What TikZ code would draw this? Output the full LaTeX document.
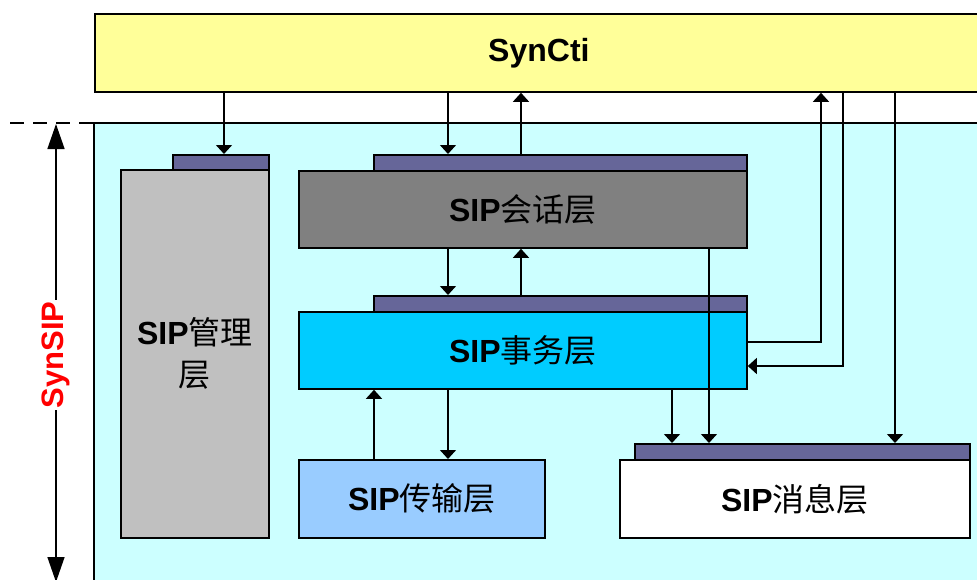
\documentclass[tikz,border=0pt]{standalone}
\usepackage{fontspec}
\setmainfont{Liberation Sans}
\newfontfamily\cjk{Noto Sans CJK SC}
\usetikzlibrary{arrows.meta,calc}
\definecolor{ctiyellow}{HTML}{FFFF99}
\definecolor{bgcyan}{HTML}{CCFFFF}
\definecolor{mgmtgray}{HTML}{C0C0C0}
\definecolor{sessgray}{HTML}{808080}
\definecolor{transblue}{HTML}{00CCFF}
\definecolor{tportblue}{HTML}{99CCFF}
\definecolor{hdrc}{HTML}{666699}
\tikzset{
  layerbox/.style={draw=black, line width=1.8pt, inner sep=0pt, anchor=north west,
    font=\fontsize{32}{38}\selectfont, align=center},
  hdrbox/.style={draw=black, line width=1.6pt, fill=hdrc, anchor=north west, inner sep=0pt},
  conn/.style={line width=1.4pt, -{Triangle[width=16pt,length=9pt]}},
  bigarr/.style={line width=1.4pt, {Triangle[width=17pt,length=25pt]}-{Triangle[width=17pt,length=25pt]}}
}
\newcommand{\sipl}[1]{{\bfseries SIP}{\cjk #1}}
\begin{document}
\begin{tikzpicture}[x=1pt,y=-1pt]
\useasboundingbox (0,0) rectangle (977,579);
\begin{scope}
\clip (0,0) rectangle (977,579);
% background region
\draw[line width=1.6pt, fill=bgcyan] (94,123) rectangle (995,600);
\draw[line width=1.6pt, dash pattern=on 14pt off 9pt] (10,123) -- (94,123);
% SynCti
\node[layerbox, fill=ctiyellow, minimum width=888pt, minimum height=78pt] (syncti) at (94,13) {\bfseries SynCti};
% headers
\node[hdrbox, minimum width=96pt, minimum height=15pt] (mgmth) at (172,154) {};
\node[hdrbox, minimum width=373pt, minimum height=16pt] (sessh) at (373,154) {};
\node[hdrbox, minimum width=373pt, minimum height=16pt] (transh) at (373,295) {};
\node[hdrbox, minimum width=335pt, minimum height=16pt] (msgh) at (634,443) {};
% boxes
\node[layerbox, fill=mgmtgray, minimum width=148pt, minimum height=368pt, font=\fontsize{32}{42}\selectfont] (mgmt) at (120,169) {\sipl{管理}\\{\cjk 层}};
\node[layerbox, fill=sessgray, minimum width=448pt, minimum height=77pt] (sess) at (298,170) {\sipl{会话层}};
\node[layerbox, fill=transblue, minimum width=448pt, minimum height=77pt] (trans) at (298,311) {\sipl{事务层}};
\node[layerbox, fill=tportblue, minimum width=246pt, minimum height=78pt] (tport) at (298,459) {\sipl{传输层}};
\node[layerbox, fill=white, minimum width=350pt, minimum height=78pt] (msg) at (619,459) {\sipl{消息层}};
% x / y helpers
\coordinate (x224) at (224,0);
\coordinate (x374) at (374,0);
\coordinate (x448) at (448,0);
\coordinate (x521) at (521,0);
\coordinate (x672) at (672,0);
\coordinate (x709) at (709,0);
\coordinate (x821) at (821,0);
\coordinate (x843) at (843,0);
\coordinate (x895) at (895,0);
\coordinate (y342) at (0,342);
\coordinate (y366) at (0,366);
% connectors
\draw[conn] (syncti.south -| x224) -- (mgmth.north -| x224);
\draw[conn] (syncti.south -| x448) -- (sessh.north -| x448);
\draw[conn] (sessh.north -| x521) -- (syncti.south -| x521);
\draw[conn] (trans.east |- y342) -| (syncti.south -| x821);
\draw[conn] (syncti.south -| x843) |- (trans.east |- y366);
\draw[conn] (syncti.south -| x895) -- (msgh.north -| x895);
\draw[conn] (sess.south -| x448) -- (transh.north -| x448);
\draw[conn] (transh.north -| x521) -- (sess.south -| x521);
\draw[conn] (sess.south -| x709) -- (msgh.north -| x709);
\draw[conn] (trans.south -| x672) -- (msgh.north -| x672);
\draw[conn] (tport.north -| x374) -- (trans.south -| x374);
\draw[conn] (trans.south -| x448) -- (tport.north -| x448);
% SynSIP dimension arrow
\coordinate (stop) at (56,124);
\coordinate (sbot) at (56,582);
\draw[bigarr] (stop) -- (sbot);
\node[fill=white, text=red, rotate=90, inner sep=2pt, font=\fontsize{31}{36}\selectfont\bfseries] (synsip) at (56,355) {SynSIP};
\end{scope}
\end{tikzpicture}
\end{document}
